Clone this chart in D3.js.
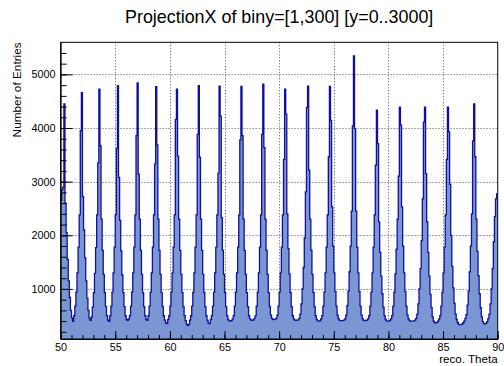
<!DOCTYPE html>
<html>
<head>
<meta charset="utf-8">
<script src="https://cdn.jsdelivr.net/npm/d3@7/dist/d3.min.js"></script>
<style>
  html, body { margin: 0; padding: 0; background: #fff; }
  svg { display: block; }
  text { font-family: "Liberation Sans", Arial, Helvetica, sans-serif; fill: #000; }
</style>
</head>
<body>
<svg id="chart" width="504" height="366"></svg>
<script>
// Histogram: reco. Theta, 400 bins of 0.1 degree between 50 and 90
const thetaRange = [50, 90];

const countsTheta50to60 = [
  2650, 2850, 2900, 4450, 2600, 2050, 1550, 1150, 840, 600,
  460, 396, 500, 680, 940, 1300, 1780, 2380, 3950, 4660,
  2720, 2100, 1580, 1150, 830, 600, 450, 414, 480, 660,
  930, 1290, 1770, 2380, 3352, 4726, 3670, 2300, 1720, 1270,
  930, 670, 500, 420, 396, 500, 680, 940, 1300, 1780,
  2380, 3620, 4788, 3080, 2280, 1710, 1260, 930, 670, 500,
  430, 414, 440, 500, 680, 940, 1300, 1780, 2380, 3860,
  4843, 3140, 2300, 1720, 1270, 930, 670, 500, 430, 414,
  500, 680, 940, 1300, 1780, 2380, 3330, 4770, 3686, 2300,
  1720, 1270, 930, 670, 500, 420, 365, 355, 430, 500
];
const countsTheta60to70 = [
  680, 940, 1300, 1780, 2380, 4160, 4726, 3477, 2300, 1720,
  1270, 930, 670, 500, 410, 345, 318, 335, 420, 500,
  680, 940, 1300, 1780, 2380, 3880, 4788, 3455, 2300, 1720,
  1270, 930, 670, 500, 415, 362, 355, 430, 500, 680,
  940, 1300, 1780, 2380, 3160, 4780, 4220, 2330, 1720, 1270,
  930, 670, 500, 430, 405, 398, 410, 440, 500, 680,
  940, 1300, 1780, 2380, 3780, 4775, 3860, 2300, 1720, 1270,
  930, 670, 500, 440, 418, 416, 425, 450, 500, 680,
  940, 1300, 1780, 2380, 3880, 4818, 3635, 2300, 1720, 1270,
  930, 670, 510, 450, 432, 430, 436, 450, 510, 680
];
const countsTheta70to80 = [
  940, 1300, 1780, 2380, 3415, 4726, 4260, 2400, 1750, 1280,
  930, 670, 500, 440, 420, 416, 418, 425, 450, 530,
  720, 1000, 1400, 1950, 2810, 4385, 4780, 3215, 2300, 1720,
  1270, 930, 670, 500, 430, 400, 398, 410, 440, 500,
  680, 940, 1300, 1780, 2380, 3465, 4775, 4140, 2530, 1800,
  1300, 950, 680, 510, 440, 415, 410, 410, 412, 418,
  440, 510, 690, 960, 1320, 1800, 2450, 4040, 5347, 3990,
  2450, 1780, 1300, 950, 680, 510, 440, 415, 410, 412,
  418, 440, 500, 680, 940, 1300, 1780, 2380, 3310, 4335,
  3710, 2250, 1680, 1240, 910, 660, 500, 430, 405, 398
];
const countsTheta80to90 = [
  400, 415, 440, 500, 680, 940, 1280, 1740, 2300, 3105,
  4390, 4055, 2530, 1800, 1300, 950, 680, 510, 440, 410,
  400, 398, 400, 405, 420, 450, 530, 720, 1000, 1380,
  1900, 2680, 4110, 4390, 3150, 2250, 1680, 1240, 900, 650,
  480, 400, 370, 366, 375, 400, 440, 500, 680, 940,
  1300, 1780, 2380, 3415, 4390, 3930, 2950, 2000, 1420, 1020,
  730, 530, 430, 370, 340, 334, 336, 345, 365, 400,
  450, 520, 700, 960, 1320, 1800, 2400, 3760, 4450, 3465,
  2300, 1700, 1250, 910, 650, 480, 390, 352, 347, 358,
  390, 445, 530, 720, 1000, 1380, 1880, 2350, 2680, 2770
];

const xMajorTicks = [50, 55, 60, 65, 70, 75, 80, 85, 90];
const yMajorTicks = [1000, 2000, 3000, 4000, 5000];

const titleText = "ProjectionX of biny=[1,300] [y=0..3000]";
const xTitleText = "reco. Theta";
const yTitleText = "Number of Entries";

// ---- layout ----
const W = 504, H = 366;
const frame = { left: 60.6, right: 497.7, top: 42.3, bottom: 339 };

const counts = [].concat(countsTheta50to60, countsTheta60to70, countsTheta70to80, countsTheta80to90);
const nBins = counts.length;
const binWidth = (thetaRange[1] - thetaRange[0]) / nBins;

// ROOT-like automatic range: 5% margin above max and below min
const cMin = d3.min(counts), cMax = d3.max(counts);
const margin = 0.05 * (cMax - cMin);
const yDomain = [Math.max(0, cMin - margin), cMax + margin];

const x = d3.scaleLinear().domain(thetaRange).range([frame.left, frame.right]);
const y = d3.scaleLinear().domain(yDomain).range([frame.bottom, frame.top]);

const svg = d3.select("#chart");

svg.append("defs").append("clipPath").attr("id", "plotClip")
  .append("rect")
  .attr("x", frame.left).attr("y", frame.top)
  .attr("width", frame.right - frame.left).attr("height", frame.bottom - frame.top);

// grid (dotted) behind the histogram
const grid = svg.append("g").attr("class", "grid")
  .attr("stroke", "#555").attr("stroke-width", 1).attr("stroke-dasharray", "1,2");
grid.selectAll("line.gx").data(xMajorTicks.filter(v => v > thetaRange[0] && v < thetaRange[1]))
  .join("line").attr("class", "gx")
  .attr("x1", d => Math.round(x(d)) + 0.5).attr("x2", d => Math.round(x(d)) + 0.5)
  .attr("y1", frame.top).attr("y2", frame.bottom);
grid.selectAll("line.gy").data(yMajorTicks)
  .join("line").attr("class", "gy")
  .attr("y1", d => Math.round(y(d)) + 0.5).attr("y2", d => Math.round(y(d)) + 0.5)
  .attr("x1", frame.left).attr("x2", frame.right);

// histogram step outline points
const stepPts = [];
counts.forEach((c, i) => {
  const lo = thetaRange[0] + i * binWidth;
  stepPts.push([lo, c], [lo + binWidth, c]);
});

const area = d3.area()
  .x(d => x(d[0]))
  .y0(frame.bottom)
  .y1(d => y(d[1]));
const line = d3.line()
  .x(d => x(d[0]))
  .y(d => y(d[1]));

const hist = svg.append("g").attr("clip-path", "url(#plotClip)");
hist.append("path").datum(stepPts)
  .attr("d", area)
  .attr("fill", "#7a97d3");
hist.append("path").datum(stepPts)
  .attr("d", line)
  .attr("fill", "none")
  .attr("stroke", "#10109c")
  .attr("stroke-width", 1.3)
  .attr("stroke-linejoin", "miter");

// frame
svg.append("rect")
  .attr("x", frame.left).attr("y", frame.top)
  .attr("width", frame.right - frame.left).attr("height", frame.bottom - frame.top)
  .attr("fill", "none").attr("stroke", "#000").attr("stroke-width", 1);

// axes
const xMinor = d3.range(thetaRange[0], thetaRange[1] + 0.001, 1);
const yMinor = d3.range(200, yDomain[1], 200).filter(v => v > yDomain[0]);

const xAxis = svg.append("g")
  .attr("transform", `translate(0,${frame.bottom})`)
  .call(d3.axisBottom(x).tickValues(xMajorTicks).tickFormat(d3.format("d"))
    .tickSizeInner(-8).tickSizeOuter(0).tickPadding(4));
svg.append("g")
  .attr("transform", `translate(0,${frame.bottom})`)
  .call(d3.axisBottom(x).tickValues(xMinor).tickFormat("")
    .tickSizeInner(-4).tickSizeOuter(0))
  .call(g => g.select(".domain").remove());

const yAxis = svg.append("g")
  .attr("transform", `translate(${frame.left},0)`)
  .call(d3.axisLeft(y).tickValues(yMajorTicks).tickFormat(d3.format("d"))
    .tickSizeInner(-12).tickSizeOuter(0).tickPadding(5));
svg.append("g")
  .attr("transform", `translate(${frame.left},0)`)
  .call(d3.axisLeft(y).tickValues(yMinor).tickFormat("")
    .tickSizeInner(-6).tickSizeOuter(0))
  .call(g => g.select(".domain").remove());

svg.selectAll(".tick text")
  .style("font-family", '"Liberation Sans", Arial, sans-serif')
  .style("font-size", "10.8px")
  .attr("fill", "#000");
svg.selectAll(".domain").attr("stroke", "#000");
svg.selectAll(".tick line").attr("stroke", "#000");

// titles
svg.append("text")
  .attr("x", (frame.left + frame.right) / 2).attr("y", 23)
  .attr("text-anchor", "middle")
  .style("font-size", "17.9px")
  .text(titleText);

svg.append("text")
  .attr("x", frame.right).attr("y", 363)
  .attr("text-anchor", "end")
  .style("font-size", "11.6px")
  .text(xTitleText);

svg.append("text")
  .attr("transform", `translate(21,${frame.top}) rotate(-90)`)
  .attr("text-anchor", "end")
  .style("font-size", "11.8px")
  .text(yTitleText);
</script>
</body>
</html>
